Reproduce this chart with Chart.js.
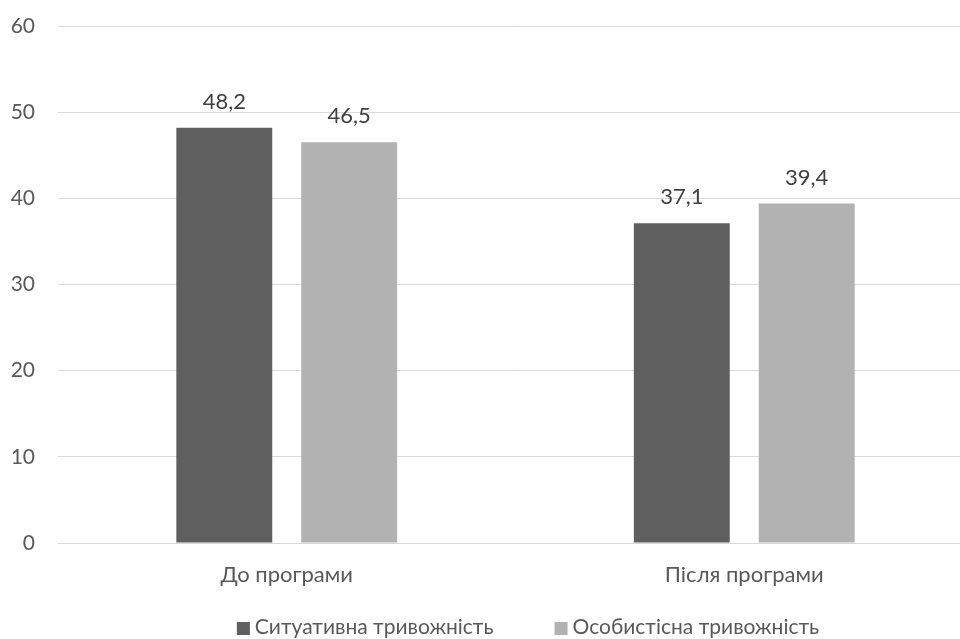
<!DOCTYPE html>
<html>
<head>
<meta charset="utf-8">
<script src="https://cdn.jsdelivr.net/npm/chart.js@4.4.1/dist/chart.umd.min.js"></script>
<style>
  html, body { margin: 0; padding: 0; background: #fff; overflow: hidden; }
  #wrap { position: relative; width: 1056px; height: 639px; }
</style>
</head>
<body>
<div id="wrap"><canvas id="c"></canvas></div>
<script>
// Categories and series values
const categories = ['До програми', 'Після програми'];
const situational = [48.2, 37.1];
const personal = [46.5, 39.4];
const seriesNames = ['Ситуативна тривожність', 'Особистісна тривожність'];
const yTicks = [0, 10, 20, 30, 40, 50, 60];

const FONT = 'Lato, "Open Sans", sans-serif';
const FONT_SIZE = 21;
const LABEL_SIZE = 22;
const TEXT = '#595959';

// Value labels drawn above each bar, formatted with a decimal comma
const valueLabels = {
  id: 'valueLabels',
  afterDatasetsDraw(chart) {
    const ctx = chart.ctx;
    ctx.save();
    ctx.font = LABEL_SIZE + 'px ' + FONT;
    ctx.fillStyle = '#404040';
    ctx.textAlign = 'center';
    ctx.textBaseline = 'alphabetic';
    chart.data.datasets.forEach((ds, i) => {
      const meta = chart.getDatasetMeta(i);
      meta.data.forEach((bar, j) => {
        const txt = ds.data[j].toFixed(1).replace('.', ',');
        ctx.fillText(txt, bar.x, bar.y - 19);
      });
    });
    ctx.restore();
  }
};

// Legend row under the axis: small square swatch, tight gap, series name
const bottomLegend = {
  id: 'bottomLegend',
  afterDraw(chart) {
    const ctx = chart.ctx;
    const box = 13, gap = 5, spacing = 61;
    const baseline = 634;
    ctx.save();
    ctx.font = FONT_SIZE + 'px ' + FONT;
    ctx.textBaseline = 'alphabetic';
    ctx.textAlign = 'left';
    const items = chart.data.datasets.map(ds => ({
      label: ds.label, color: ds.backgroundColor, w: ctx.measureText(ds.label).width
    }));
    const total = items.reduce((s, it) => s + box + gap + it.w, 0) + spacing * (items.length - 1);
    let x = chart.width / 2 - total / 2;
    items.forEach(it => {
      ctx.fillStyle = it.color;
      ctx.fillRect(x, baseline - 12, box, box);
      ctx.fillStyle = TEXT;
      ctx.fillText(it.label, x + box + gap, baseline);
      x += box + gap + it.w + spacing;
    });
    ctx.restore();
  }
};

// Vertical axes should not reserve extra room above/below the plot
function noVerticalPadding(axis) {
  axis.paddingTop = 0;
  axis.paddingBottom = 0;
}

new Chart(document.getElementById('c'), {
  type: 'bar',
  data: {
    labels: categories,
    datasets: [
      { label: seriesNames[0], data: situational, backgroundColor: '#5f5f5f', borderWidth: 0 },
      { label: seriesNames[1], data: personal, backgroundColor: '#b2b2b2', borderWidth: 0 }
    ]
  },
  options: {
    responsive: true,
    maintainAspectRatio: false,
    animation: false,
    layout: { padding: { top: 26, bottom: 50, left: 0, right: 0 } },
    datasets: { bar: { categoryPercentage: 0.546, barPercentage: 0.768 } },
    plugins: {
      legend: { display: false },
      tooltip: { enabled: false }
    },
    scales: {
      x: {
        afterFit(axis) { axis.height = 46; },
        grid: { display: false, drawTicks: false },
        border: { display: false },
        ticks: { font: { family: FONT, size: LABEL_SIZE }, color: TEXT, padding: 19 }
      },
      y: {
        min: 0, max: 60,
        afterBuildTicks(axis) { axis.ticks = yTicks.map(v => ({ value: v })); },
        afterFit(axis) { axis.width = 58; noVerticalPadding(axis); },
        grid: { color: '#d9d9d9', lineWidth: 1, drawTicks: false },
        border: { display: false },
        ticks: { font: { family: FONT, size: FONT_SIZE }, color: TEXT, padding: 23 }
      },
      yRight: {
        position: 'right',
        afterFit(axis) { axis.width = 83; noVerticalPadding(axis); },
        grid: { display: false, drawTicks: false },
        border: { display: false },
        ticks: { display: false }
      }
    }
  },
  plugins: [valueLabels, bottomLegend]
});
</script>
</body>
</html>
